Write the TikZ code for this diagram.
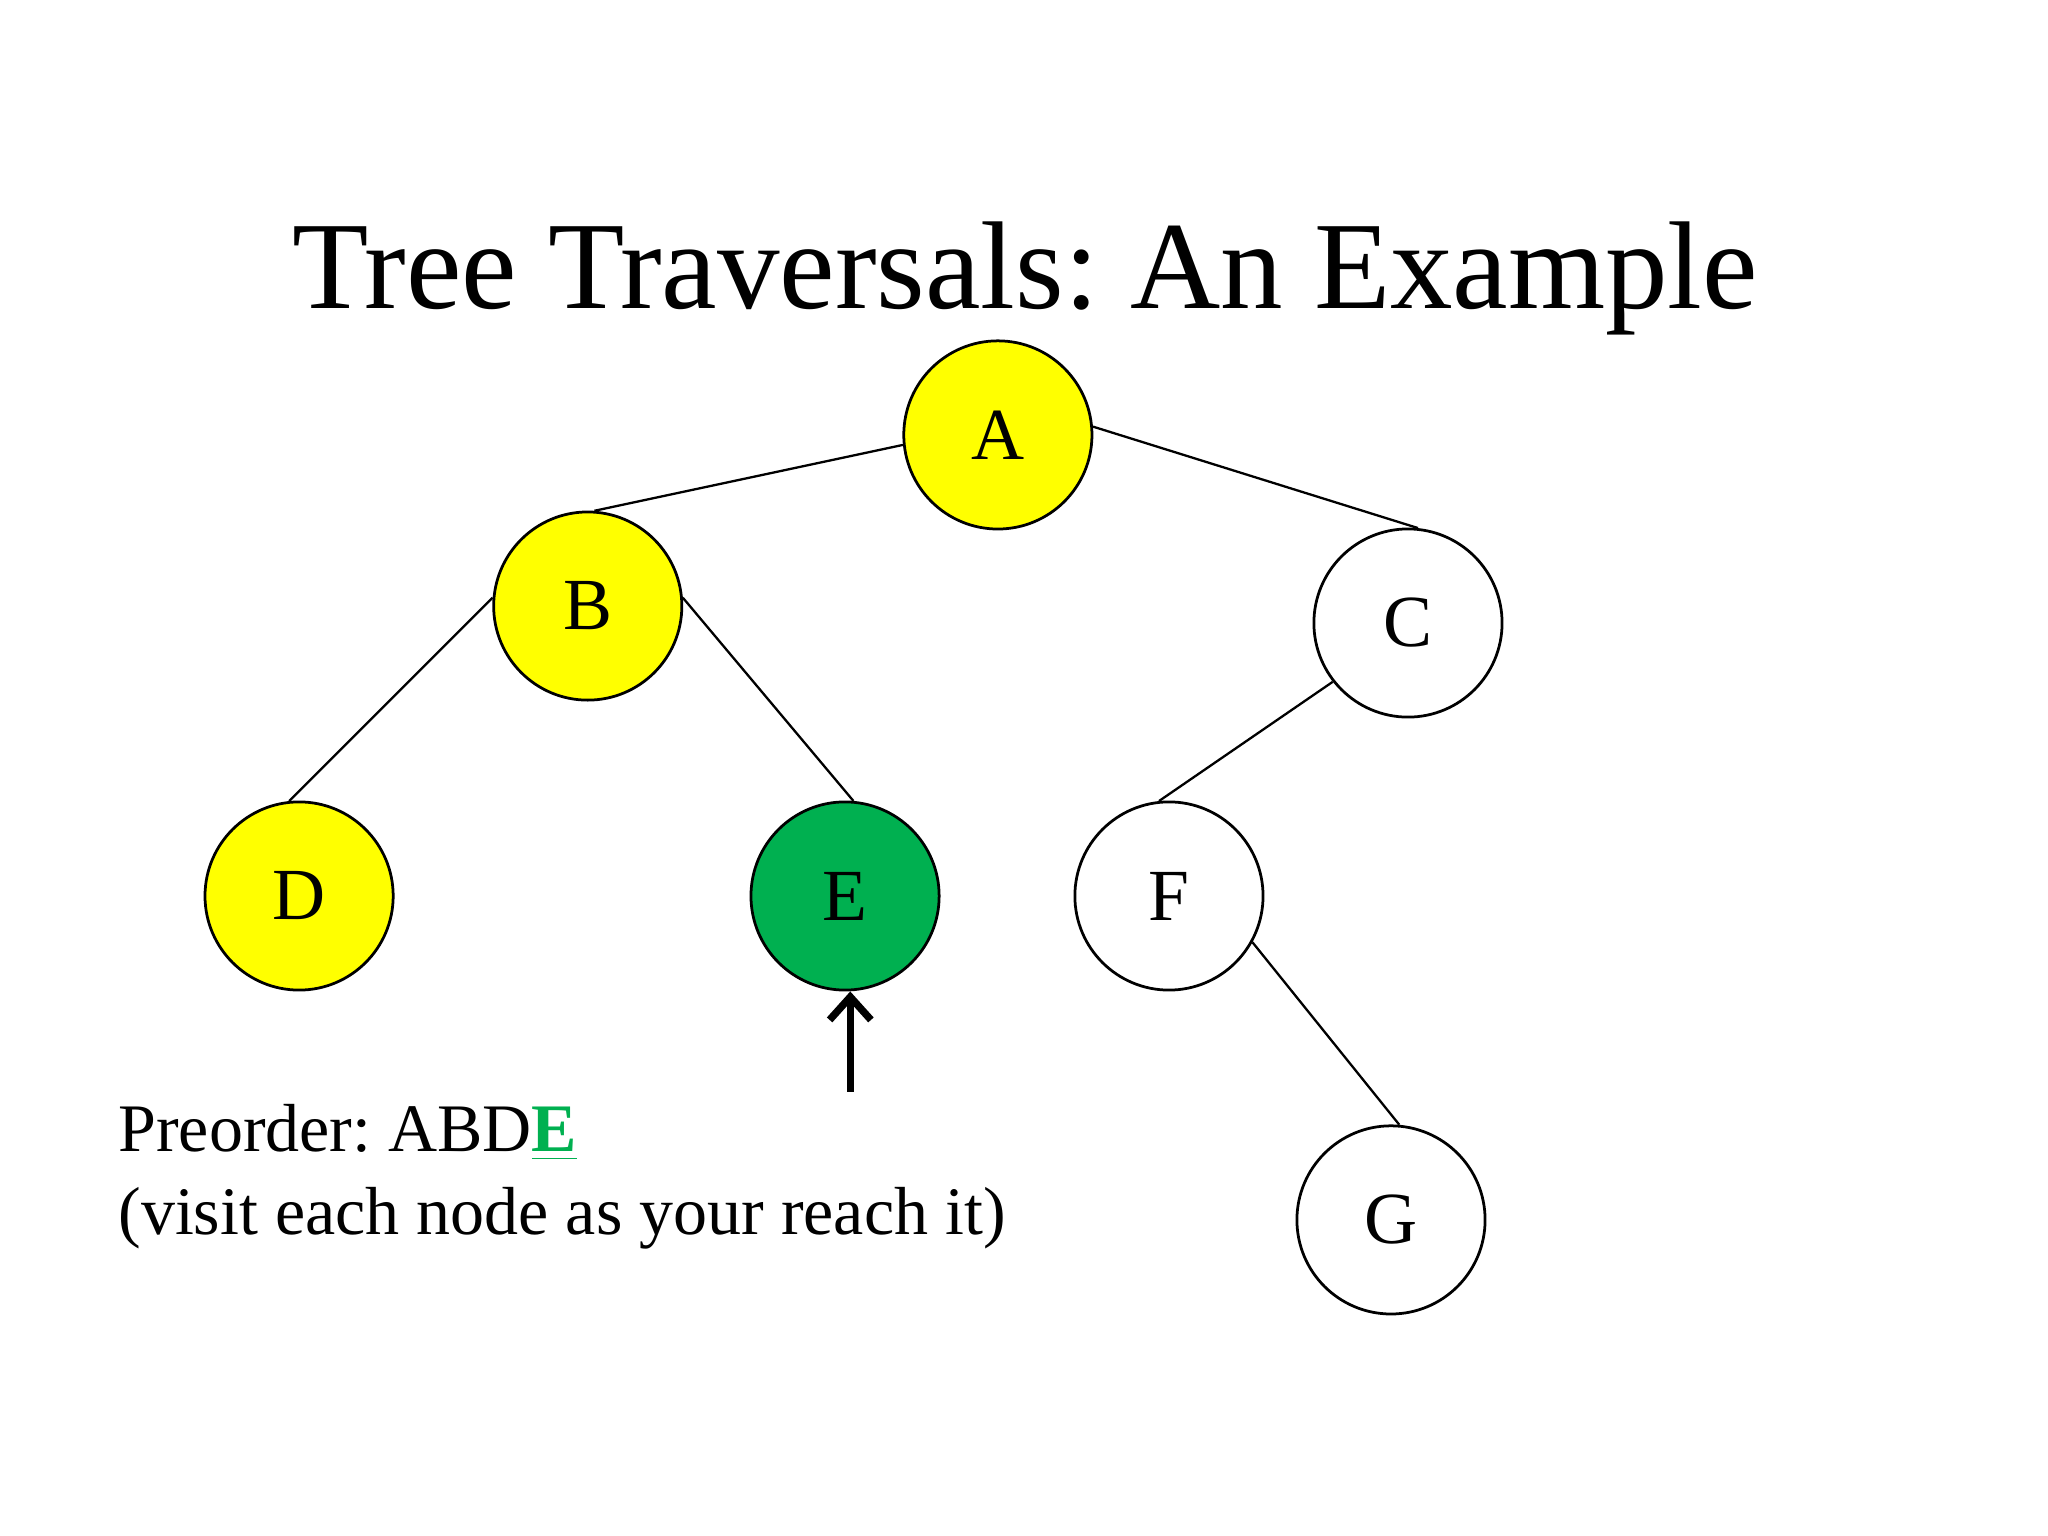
\documentclass[tikz,border=0pt]{standalone}
\usepackage{fontspec}
\setmainfont{Liberation Serif}
\usetikzlibrary{arrows.meta}
\definecolor{ylw}{RGB}{255,255,0}
\definecolor{grn}{RGB}{0,176,80}
\frenchspacing
\begin{document}
\begin{tikzpicture}[x=0.01cm,y=-0.01cm,
  tn/.style={circle,draw=black,line width=0.6pt,minimum size=1.44cm,inner sep=0pt,font=\fontsize{16}{19}\selectfont},
  edge/.style={line width=0.5pt}]
\useasboundingbox (0,0) rectangle (1568,1176);
\node[font=\fontsize{27.2}{32}\selectfont,anchor=base,inner sep=0pt] (title) at (785,236) {Tree Traversals: An Example};
\node[tn,fill=ylw] (A) at (764,333) {A};
\node[tn,fill=ylw] (B) at (450,464) {B};
\node[tn] (C) at (1078,477) {C};
\node[tn,fill=ylw] (D) at (229,686) {D};
\node[tn,fill=grn] (E) at (647,686) {E};
\node[tn] (F) at (895,686) {F};
\node[tn] (G) at (1065,934) {G};
\draw[edge] (A.186) -- (B.86);
\draw[edge] (A.5) -- (C.84);
\draw[edge] (C.218) -- (F.96);
\draw[edge] (B.175) -- (D.96);
\draw[edge] (B.5) -- (E.85);
\draw[edge] (F.331) -- (G.85);
\coordinate (arr) at (651,836);
\draw[line width=1.6pt,-{Straight Barb[length=5pt,width=9pt]}] (arr) -- (E.south -| arr);
\node[anchor=base west,font=\fontsize{14.8}{18}\selectfont,inner sep=0pt] (t1) at (90,882)
 {Preorder: ABD\textcolor{grn}{\textbf{\underline{E}}}};
\node[anchor=base west,font=\fontsize{14.8}{18}\selectfont,inner sep=0pt] (t2) at (90,945)
 {(visit each node as your reach it)};
\end{tikzpicture}
\end{document}
